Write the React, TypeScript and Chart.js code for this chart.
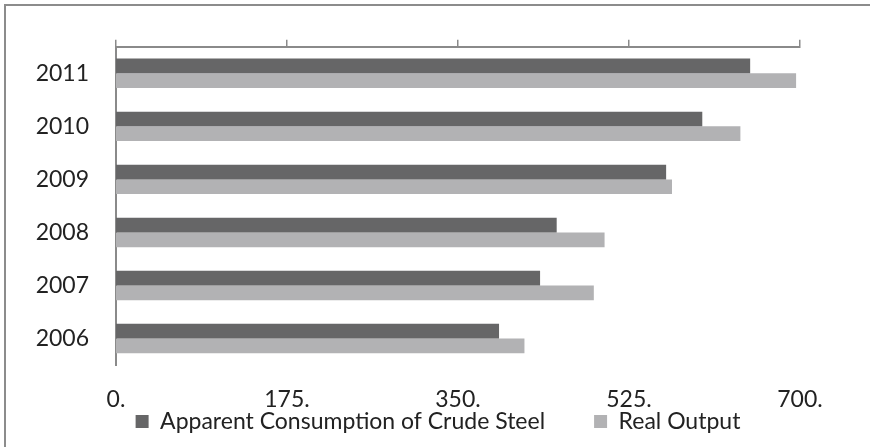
import React, { useEffect, useRef } from "react";
import { Chart, registerables } from "chart.js";

Chart.register(...registerables);

const categories = ["2011", "2010", "2009", "2008", "2007", "2006"];
const apparentConsumption = [649, 600, 563, 451, 434, 392];
const realOutput = [696, 639, 569, 500, 489, 418];
const tickValues = [0, 175, 350, 525, 700];

const FONT = "Lato, 'Open Sans', sans-serif";
const FS = 23;

export default function App() {
  const ref = useRef<HTMLCanvasElement | null>(null);

  useEffect(() => {
    if (!ref.current) return;
    const spacer = () => ({
      text: "",
      fillStyle: "rgba(0,0,0,0)",
      strokeStyle: "rgba(0,0,0,0)",
      lineWidth: 0,
      hidden: false,
    });
    const chart = new Chart(ref.current, {
      type: "bar",
      data: {
        labels: categories,
        datasets: [
          {
            label: "Apparent Consumption of Crude Steel",
            data: apparentConsumption,
            backgroundColor: "#666667",
            borderWidth: 0,
          },
          {
            label: "Real Output",
            data: realOutput,
            backgroundColor: "#b2b2b4",
            borderWidth: 0,
          },
        ],
      },
      options: {
        indexAxis: "y",
        animation: false,
        responsive: false,
        maintainAspectRatio: false,
        categoryPercentage: 0.555,
        barPercentage: 1,
        layout: { padding: { top: 27, right: 0, left: 0, bottom: 4 } },
        plugins: {
          tooltip: { enabled: false },
          legend: {
            position: "bottom",
            labels: {
              boxWidth: 13,
              boxHeight: 13,
              padding: 0,
              color: "#222",
              font: { family: FONT, size: FS, lineHeight: 1 },
              generateLabels: (c: any) => {
                const items = Chart.defaults.plugins.legend.labels.generateLabels(c);
                return [items[0], spacer(), spacer(), items[1]];
              },
            },
          },
        },
        scales: {
          x: {
            type: "linear",
            position: "bottom",
            min: 0,
            max: 700,
            afterBuildTicks: (s: any) => {
              s.ticks = tickValues.map((v) => ({ value: v }));
            },
            afterFit: (s: any) => {
              s.height = 45;
            },
            ticks: {
              color: "#222",
              font: { family: FONT, size: FS, lineHeight: 1 },
              padding: 23,
              maxRotation: 0,
              callback: (v: any) => v + ".",
            },
            grid: { display: false, drawTicks: false },
            border: { display: false },
          },
          x2: {
            type: "linear",
            axis: "x",
            position: "top",
            min: 0,
            max: 700,
            afterBuildTicks: (s: any) => {
              s.ticks = tickValues.map((v) => ({ value: v }));
            },
            ticks: { display: false },
            grid: {
              drawOnChartArea: false,
              drawTicks: true,
              tickLength: 7,
              color: "#8a8a8a",
              lineWidth: 1.5,
            },
            border: { display: true, color: "#8a8a8a", width: 2 },
          },
          y: {
            ticks: {
              color: "#222",
              font: { family: FONT, size: FS },
              padding: 27,
            },
            afterFit: (s: any) => {
              s.width = 110;
            },
            grid: { drawOnChartArea: false, drawTicks: false },
            border: { display: true, color: "#8a8a8a", width: 2 },
          },
          yRight: {
            type: "category",
            axis: "y",
            position: "right",
            ticks: { display: false },
            grid: { display: false, drawTicks: false },
            border: { display: false },
            afterFit: (s: any) => {
              s.width = 70;
            },
          },
        },
      },
    });
    return () => chart.destroy();
  }, []);

  return (
    <div style={{ position: "absolute", left: 0, top: 0, width: 870, height: 447, background: "#fff" }}>
      <div
        style={{
          position: "absolute",
          left: 4,
          top: 4,
          width: 866,
          height: 443,
          boxSizing: "border-box",
          borderTop: "2px solid #8c8c8c",
          borderLeft: "2px solid #8c8c8c",
        }}
      >
        <canvas ref={ref} width={864} height={441} style={{ display: "block", width: 864, height: 441 }} />
      </div>
    </div>
  );
}
